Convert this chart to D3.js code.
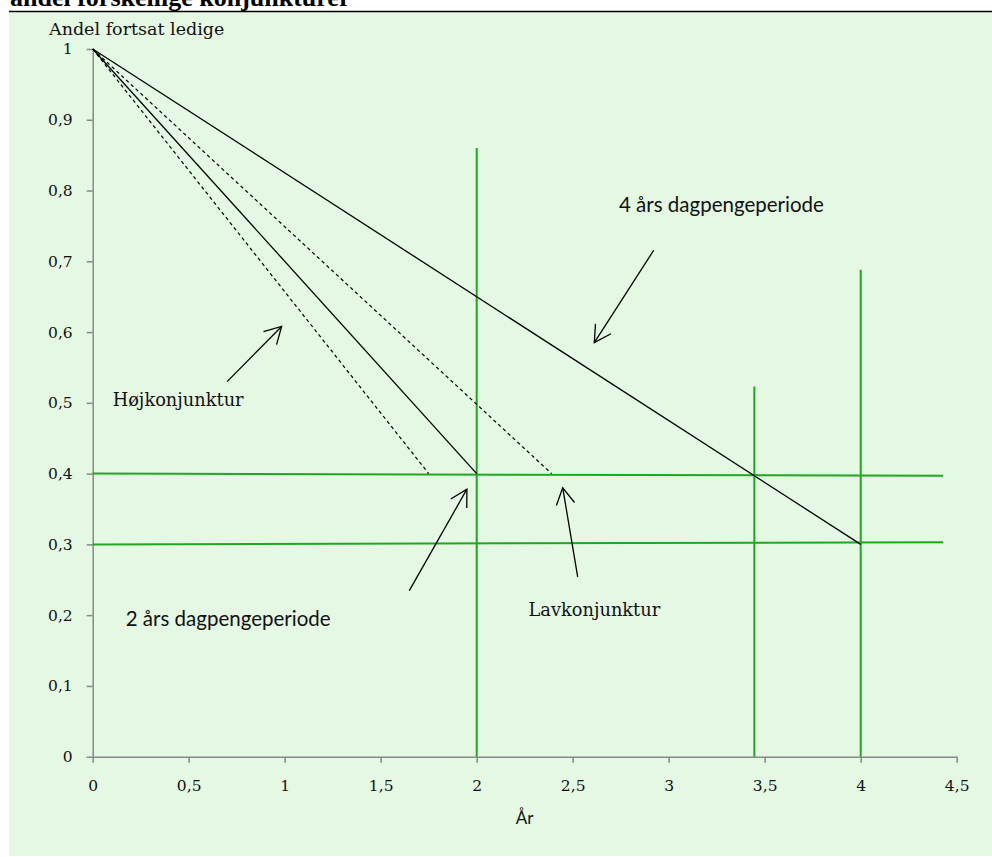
<!DOCTYPE html>
<html>
<head>
<meta charset="utf-8">
<script src="https://cdn.jsdelivr.net/npm/d3@7"></script>
<style>
  body { margin: 0; background: #fff; }
  svg { display: block; }
</style>
</head>
<body>
<script>
// Andel fortsat ledige ved 2 og 4 års dagpengeperiode
const xTicks = [0, 0.5, 1, 1.5, 2, 2.5, 3, 3.5, 4, 4.5];
const yTicks = [0, 0.1, 0.2, 0.3, 0.4, 0.5, 0.6, 0.7, 0.8, 0.9, 1];

// solid lines [x0, y0, x1, y1]
const periodLines = [
  [0, 1, 2, 0.4],
  [0, 1, 4, 0.3]
];
// dashed lines (høj- og lavkonjunktur)
const cycleLines = [
  [0, 1, 1.75, 0.4],
  [0, 1, 2.39, 0.4]
];
// green helper lines
const vLines = [[2, 0.86], [3.446, 0.523], [4, 0.688]];   // [x, top]
const hLines = [[0.4, 0.397], [0.3, 0.303]];            // [y start, y end]
const hLineEnd = 4.43;

// annotations in data units
const labelText = ["Højkonjunktur", "Lavkonjunktur", "2 års dagpengeperiode", "4 års dagpengeperiode"];
const labelPos = [[0.104, 0.496], [2.27, 0.1995], [0.172, 0.185], [2.741, 0.770]];
const labelSans = [false, false, true, true];
const arrows = [
  [0.700, 0.530, 0.984, 0.608],
  [2.526, 0.254, 2.448, 0.380],
  [1.649, 0.2346, 1.949, 0.378],
  [2.922, 0.7156, 2.6125, 0.585]
];

const width = 992, height = 857;
const x = d3.scaleLinear().domain([0, 4.5]).range([92.7, 956.7]);
const y = d3.scaleLinear().domain([0, 1]).range([756.7, 49]);

const fmt = d3.formatLocale({ decimal: ",", thousands: ".", grouping: [3], currency: ["", " kr"] }).format("~g");
const serif = "'DejaVu Serif', serif";
const sans = "Lato, 'Open Sans', sans-serif";
const green = "#1fa81f";

const svg = d3.select("body").append("svg")
    .attr("width", width)
    .attr("height", height);

svg.append("rect")
    .attr("x", 9).attr("y", 12)
    .attr("width", width - 9).attr("height", 844)
    .attr("fill", "#e5f8e4");

// title, cut at the top like the source
svg.append("text")
    .attr("x", 10).attr("y", 6)
    .attr("font-family", "'Liberation Serif', serif")
    .attr("font-weight", "bold")
    .attr("font-size", 26)
    .text("andel forskellige konjunkturer");

svg.append("line")
    .attr("x1", 9).attr("x2", width)
    .attr("y1", 11.5).attr("y2", 11.5)
    .attr("stroke", "#000").attr("stroke-width", 1.6);

svg.append("defs").append("marker")
    .attr("id", "head")
    .attr("markerUnits", "userSpaceOnUse")
    .attr("viewBox", "-20 -12 24 24")
    .attr("markerWidth", 24).attr("markerHeight", 24)
    .attr("refX", 0).attr("refY", 0)
    .attr("orient", "auto")
    .append("path")
    .attr("d", "M-16.5,-9.2L0,0L-16.5,9.2")
    .attr("fill", "none")
    .attr("stroke", "#000")
    .attr("stroke-width", 1.3);

// axes
const xAxis = svg.append("g")
    .attr("transform", `translate(0,${y(0)})`)
    .call(d3.axisBottom(x).tickValues(xTicks).tickFormat(fmt).tickSize(6).tickSizeOuter(0));
xAxis.selectAll("text").attr("y", 34).attr("dy", 0);

const yAxis = svg.append("g")
    .attr("transform", `translate(${x(0)},0)`)
    .call(d3.axisLeft(y).tickValues(yTicks).tickFormat(fmt).tickSize(6).tickSizeOuter(0).tickPadding(14));

[xAxis, yAxis].forEach(g => {
    g.select(".domain").attr("stroke", "#888").attr("stroke-width", 1.5);
    g.selectAll(".tick line").attr("stroke", "#888").attr("stroke-width", 1.5);
    g.selectAll("text")
        .attr("font-family", serif)
        .attr("font-size", 15.5)
        .attr("fill", "#111");
});

svg.append("text")
    .attr("x", 49).attr("y", 35)
    .attr("font-family", serif)
    .attr("font-size", 17.5)
    .attr("fill", "#111")
    .text("Andel fortsat ledige");

svg.append("text")
    .attr("x", x(2.25)).attr("y", 824)
    .attr("text-anchor", "middle")
    .attr("font-family", sans)
    .attr("font-size", 17)
    .attr("fill", "#111")
    .text("År");

// green lines
svg.append("g").selectAll("line")
    .data(vLines)
    .join("line")
    .attr("x1", d => x(d[0])).attr("x2", d => x(d[0]))
    .attr("y1", y(0)).attr("y2", d => y(d[1]))
    .attr("stroke", green).attr("stroke-width", 2);

svg.append("g").selectAll("line")
    .data(hLines)
    .join("line")
    .attr("x1", x(0)).attr("x2", x(hLineEnd))
    .attr("y1", d => y(d[0])).attr("y2", d => y(d[1]))
    .attr("stroke", green).attr("stroke-width", 2);

// black lines
svg.append("g").selectAll("line")
    .data(periodLines)
    .join("line")
    .attr("x1", d => x(d[0])).attr("y1", d => y(d[1]))
    .attr("x2", d => x(d[2])).attr("y2", d => y(d[3]))
    .attr("stroke", "#000").attr("stroke-width", 1.3);

svg.append("g").selectAll("line")
    .data(cycleLines)
    .join("line")
    .attr("x1", d => x(d[0])).attr("y1", d => y(d[1]))
    .attr("x2", d => x(d[2])).attr("y2", d => y(d[3]))
    .attr("stroke", "#000").attr("stroke-width", 1.2)
    .attr("stroke-dasharray", "3.5,3");

// arrows
svg.append("g").selectAll("line")
    .data(arrows)
    .join("line")
    .attr("x1", d => x(d[0])).attr("y1", d => y(d[1]))
    .attr("x2", d => x(d[2])).attr("y2", d => y(d[3]))
    .attr("stroke", "#000").attr("stroke-width", 1.3)
    .attr("marker-end", "url(#head)");

// labels
svg.append("g").selectAll("text")
    .data(labelText)
    .join("text")
    .attr("x", (d, i) => x(labelPos[i][0]))
    .attr("y", (d, i) => y(labelPos[i][1]))
    .attr("font-family", (d, i) => labelSans[i] ? sans : serif)
    .attr("font-size", (d, i) => labelSans[i] ? 20.5 : 17.8)
    .attr("fill", "#111")
    .text(d => d);
</script>
</body>
</html>
